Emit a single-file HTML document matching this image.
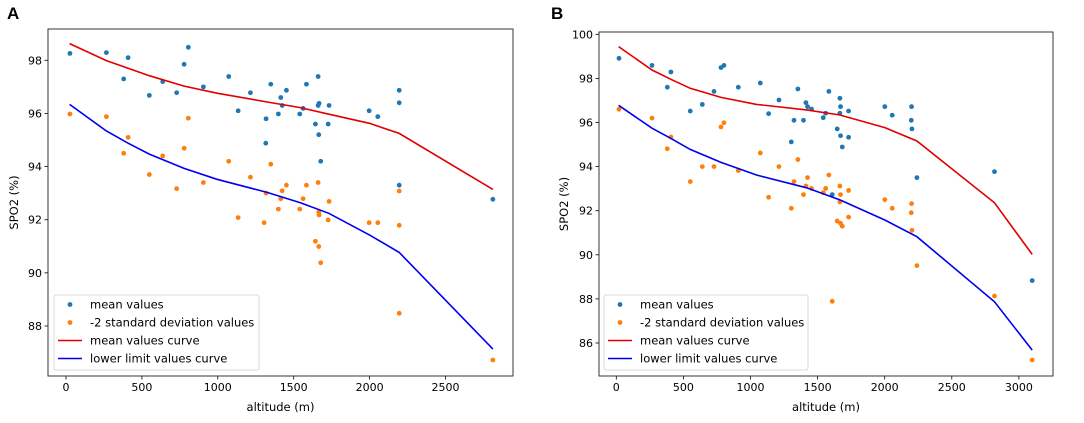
<!DOCTYPE html>
<html><head><meta charset="utf-8">
<style>
html,body{margin:0;padding:0;background:#fff;}
svg{display:block;font-family:"DejaVu Sans","Liberation Sans",sans-serif;}
</style></head>
<body>
<svg id="chart" width="1084" height="423" viewBox="0 0 1084 423" xmlns="http://www.w3.org/2000/svg"></svg>
<script>
// Panel A data
const aMeanAlt = [26,266,409,380,549,637,729,778,806,905,1072,1134,1215,1316,1318,1349,1399,1415,1424,1452,1540,1562,1584,1643,1661,1661,1667,1665,1678,1727,1733,1997,2054,2195,2195,2195,2812];
const aMeanVal = [98.26,98.29,98.1,97.3,96.68,97.2,96.78,97.85,98.49,97.0,97.39,96.1,96.78,94.88,95.8,97.1,95.98,96.6,96.3,96.87,95.98,96.19,97.1,95.6,97.39,96.3,96.38,95.2,94.2,95.6,96.3,96.1,95.88,96.87,96.4,93.3,92.77];
const aSdAlt = [26,266,409,380,549,637,729,778,806,905,1072,1134,1215,1305,1318,1349,1399,1415,1424,1452,1540,1562,1584,1643,1661,1665,1667,1665,1678,1727,1733,1997,2054,2195,2195,2195,2812];
const aSdVal = [95.98,95.88,95.1,94.5,93.7,94.4,93.17,94.69,95.82,93.4,94.2,92.08,93.6,91.89,93.0,94.09,92.4,92.79,93.09,93.3,92.4,92.79,93.3,91.19,93.4,92.29,92.18,90.99,90.38,91.99,92.69,91.89,91.89,93.08,91.79,88.48,86.72];
const aCurveAlt = [24,266,409,549,778,995,1325,1544,1731,1999,2195,2812];
const aMeanCurve = [98.63,97.99,97.7,97.42,97.03,96.76,96.43,96.22,95.97,95.63,95.25,93.14];
const aLowerCurve = [96.34,95.34,94.88,94.47,93.93,93.52,93.03,92.64,92.24,91.43,90.77,87.13];
const aXTicks = [0,500,1000,1500,2000,2500];
const aYTicks = [88,90,92,94,96,98];
// Panel B data
const bMeanAlt = [20,266,407,380,551,641,728,780,802,909,1073,1135,1212,1304,1324,1353,1395,1413,1425,1455,1542,1560,1584,1609,1646,1666,1671,1666,1671,1684,1731,1731,2001,2056,2200,2198,2203,2240,2818,3099];
const bMeanVal = [98.91,98.59,98.29,97.6,96.52,96.82,97.41,98.49,98.59,97.6,97.79,96.4,97.02,95.12,96.1,97.52,96.1,96.9,96.72,96.61,96.22,96.42,97.41,92.73,95.71,97.1,96.72,96.42,95.4,94.89,96.52,95.33,96.72,96.33,96.72,96.1,95.71,93.5,93.77,88.83];
const bSdAlt = [20,266,407,380,551,641,728,780,802,909,1073,1135,1212,1304,1324,1353,1395,1413,1425,1455,1542,1560,1584,1609,1646,1666,1671,1666,1671,1684,1731,1731,2001,2056,2200,2198,2203,2240,2818,3099];
const bSdVal = [96.6,96.2,95.34,94.81,93.32,94.0,94.0,95.8,95.99,93.82,94.62,92.61,94.0,92.11,93.32,94.32,92.73,93.12,93.5,93.01,92.82,93.01,93.62,87.89,91.53,93.12,92.73,92.4,91.43,91.3,92.92,91.71,92.5,92.11,92.32,91.91,91.11,89.51,88.13,85.23];
const bCurveAlt = [17,266,407,551,780,1045,1418,1666,2001,2240,2818,3099];
const bMeanCurve = [99.44,98.38,97.96,97.55,97.14,96.82,96.57,96.34,95.77,95.16,92.36,90.02];
const bLowerCurve = [96.78,95.74,95.28,94.78,94.19,93.62,93.04,92.49,91.58,90.82,87.87,85.68];
const bXTicks = [0,500,1000,1500,2000,2500,3000];
const bYTicks = [86,88,90,92,94,96,98,100];

const NS = "http://www.w3.org/2000/svg";
const svg = document.getElementById('chart');
function mk(tag, attrs, parent){
  const e = document.createElementNS(NS, tag);
  for (const k in attrs) e.setAttribute(k, attrs[k]);
  (parent||svg).appendChild(e);
  return e;
}
function panel(cfg){
  const g = mk('g', {});
  
  
  const {L,R,T,B} = cfg.box;
  const sx = v => cfg.x0px + (v - 0) * cfg.xpx;
  const sy = v => cfg.y0px - (v - cfg.y0) * cfg.ypx;
  const lt = mk('text', {x: cfg.letterX, y: 19, 'font-size': 17, 'font-weight': 'bold', fill: '#000', 'font-family': 'Liberation Sans, sans-serif'}, g);
  lt.textContent = cfg.id.toUpperCase();
  
  
  const cp = mk('clipPath', {id: 'clip-' + cfg.id}, g);
  mk('rect', {x: L, y: T, width: R - L, height: B - T}, cp);
  cfg.xTicks.forEach(t => {
    const x = sx(t);
    mk('line', {x1: x, x2: x, y1: B, y2: B + 3.5, stroke: '#000', 'stroke-width': 0.8}, g);
    const tx = mk('text', {x: x, y: B + 15, 'font-size': 11, 'text-anchor': 'middle', fill: '#000'}, g);
    tx.textContent = t;
    
    
  });
  cfg.yTicks.forEach(t => {
    const y = sy(t);
    mk('line', {x1: L - 3.5, x2: L, y1: y, y2: y, stroke: '#000', 'stroke-width': 0.8}, g);
    const tx = mk('text', {x: L - 6, y: y + 4, 'font-size': 11, 'text-anchor': 'end', fill: '#000'}, g);
    tx.textContent = t;
    
    
  });
  const xt = mk('text', {x: (L + R) / 2, y: 411, 'font-size': 11.5, 'text-anchor': 'middle', fill: '#000'}, g);
  xt.textContent = 'altitude (m)';
  
  
  const yt = mk('text', {x: 0, y: 0, 'font-size': 11.5, 'text-anchor': 'middle', fill: '#000', transform: `translate(${cfg.ylabX},${(T + B) / 2}) rotate(-90)`}, g);
  yt.textContent = 'SPO2 (%)';
  
  
  const plot = mk('g', {'clip-path': `url(#clip-${cfg.id})`}, g);
  cfg.meanAlt.forEach((a, i) => {
    const c = mk('circle', {cx: sx(a), cy: sy(cfg.meanVal[i]), r: 2.4, fill: '#1f77b4'}, plot);
    
    
  });
  cfg.sdAlt.forEach((a, i) => {
    const c = mk('circle', {cx: sx(a), cy: sy(cfg.sdVal[i]), r: 2.4, fill: '#ff7f0e'}, plot);
    
    
  });
  const pts = arr => cfg.curveAlt.map((a, i) => sx(a).toFixed(1) + ',' + sy(arr[i]).toFixed(1)).join(' ');
  const rl = mk('polyline', {points: pts(cfg.meanCurve), fill: 'none', stroke: '#e00000', 'stroke-width': 1.6}, plot);
  
  
  const bl = mk('polyline', {points: pts(cfg.lowerCurve), fill: 'none', stroke: '#0000f0', 'stroke-width': 1.6}, plot);
  
  
  const fr = mk('rect', {x: L, y: T, width: R - L, height: B - T, fill: 'none', stroke: '#222', 'stroke-width': 0.9}, g);
  
  
  const lg = mk('g', {}, g);
  
  
  const lx = cfg.legend.x, ly = 295;
  mk('rect', {x: lx, y: ly, width: cfg.legend.w, height: 75, rx: 2, fill: '#fff', 'fill-opacity': 0.85, stroke: '#d0d0d0', 'stroke-width': 0.8}, lg);
  const labels = ['mean values', '-2 standard deviation values', 'mean values curve', 'lower limit values curve'];
  labels.forEach((lab, i) => {
    const y = ly + 9.5 + i * 18;
    const ent = mk('g', {}, lg);
    
    
    if (i < 2) mk('circle', {cx: lx + 16, cy: y, r: 2.4, fill: i === 0 ? '#1f77b4' : '#ff7f0e'}, ent);
    else mk('line', {x1: lx + 4, x2: lx + 28, y1: y, y2: y, stroke: i === 2 ? '#e00000' : '#0000f0', 'stroke-width': 1.6}, ent);
    const t = mk('text', {x: lx + 36, y: y + 4, 'font-size': 11.5, fill: '#000'}, ent);
    t.textContent = lab;
  });
}
panel({id: 'a', box: {L: 48, R: 513, T: 29, B: 376}, x0px: 66, xpx: 75.9/500, y0: 88, y0px: 326, ypx: 26.57,
  xTicks: aXTicks, yTicks: aYTicks, letterX: 7, ylabX: 18, legend: {x: 54, w: 205},
  meanAlt: aMeanAlt, meanVal: aMeanVal, sdAlt: aSdAlt, sdVal: aSdVal, curveAlt: aCurveAlt, meanCurve: aMeanCurve, lowerCurve: aLowerCurve});
panel({id: 'b', box: {L: 599, R: 1053, T: 32, B: 376}, x0px: 616.3, xpx: 67.1/500, y0: 86, y0px: 343, ypx: 22.05,
  xTicks: bXTicks, yTicks: bYTicks, letterX: 551, ylabX: 568, legend: {x: 604, w: 204},
  meanAlt: bMeanAlt, meanVal: bMeanVal, sdAlt: bSdAlt, sdVal: bSdVal, curveAlt: bCurveAlt, meanCurve: bMeanCurve, lowerCurve: bLowerCurve});
</script>
</body></html>
